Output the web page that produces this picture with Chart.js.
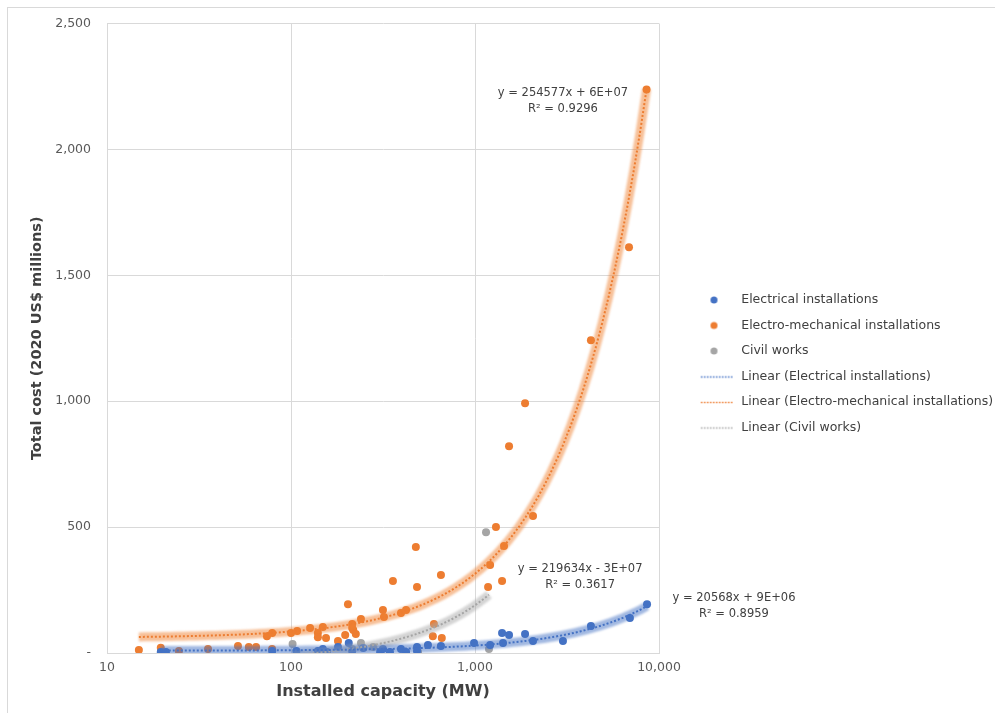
<!DOCTYPE html>
<html>
<head>
<meta charset="utf-8">
<title>Total cost vs installed capacity</title>
<script src="https://cdn.jsdelivr.net/npm/chart.js@4.4.1/dist/chart.umd.min.js"></script>
<style>
    html, body { margin: 0; padding: 0; background: #fff; }
    #wrap { position: relative; width: 995px; height: 713px; overflow: hidden; }
    #frame { position: absolute; left: 7px; top: 7px; width: 1000px; height: 720px; border: 1px solid #d9d9d9; pointer-events: none; }
    #chart { position: absolute; left: 0; top: 0; }
</style>
</head>
<body>
<div id="wrap">
    <canvas id="chart" width="995" height="713"></canvas>
    <div id="frame"></div>
</div>
<script>
// Datos (MW, millones de US$ 2020)
const elecCapacity = [19.6, 20.9, 79, 107, 140, 149, 157, 180, 206, 215, 247, 305, 316, 345, 396, 422, 484, 484, 555, 653, 988, 1208, 1403, 1420, 1531, 1871, 2067, 3006, 4266, 6950, 8610];
const elecCost     = [4, 4, 8, 8, 8, 16, 4, 24, 40, 8, 20, 4, 16, 4, 16, 4, 24, 8, 32, 28, 40, 32, 79, 40, 71, 75, 48, 48, 107, 139, 194];

const emCapacity = [14.9, 19.6, 24.6, 35.4, 51.5, 59, 64.6, 78.9, 74, 79, 100, 108, 127, 149, 140, 140, 155, 204, 180, 197, 215, 215, 218, 225, 240, 316, 320, 358, 396, 422, 477, 484, 653, 598, 590, 660, 1178, 1208, 1300, 1403, 1438, 1531, 1871, 2067, 4266, 6870, 8560];
const emCost     = [12, 21, 8, 16, 28, 24, 24, 16, 67, 79, 79, 87, 99, 103, 79, 63, 60, 194, 48, 71, 115, 99, 91, 75, 135, 171, 143, 286, 159, 171, 421, 262, 310, 115, 67, 60, 262, 349, 500, 286, 425, 821, 992, 544, 1242, 1611, 2238];

const civilCapacity = [102, 215, 240, 280, 490, 1148, 1191];
const civilCost     = [36, 16, 40, 24, 4, 480, 16];

// Lineas de tendencia (pendiente en US$/MW, intercepto en US$)
const elecTrend  = [20568, 9e6];
const emTrend    = [254577, 6e7];
const civilTrend = [219634, -3e7];

const seriesNames = ['Electrical installations', 'Electro-mechanical installations', 'Civil works'];
const eqLabels = [
    ['y = 20568x + 9E+06', 'R\u00b2 = 0.8959'],
    ['y = 254577x + 6E+07', 'R\u00b2 = 0.9296'],
    ['y = 219634x - 3E+07', 'R\u00b2 = 0.3617']
];

const xTicks = [10, 100, 1000, 10000];
const yTicks = [0, 500, 1000, 1500, 2000, 2500];

const colores = ['#4472c4', '#ed7d31', '#a5a5a5'];
const glows = ['rgba(68,114,196,0.5)', 'rgba(240,130,50,0.5)', 'rgba(170,170,170,0.5)'];

// Posicion de las etiquetas de ecuacion (en unidades del grafico)
const eqAnchors = [[25560, 186], [3006, 2194], [3725, 302]];

function puntos(xs, ys) {
    return xs.map((x, i) => ({ x: x, y: ys[i] }));
}

// Recta y = a*x + b (en millones) dibujada sobre el rango de capacidad de la serie
function tendencia(coef, xs) {
    const lo = Math.min(...xs), hi = Math.max(...xs);
    const pts = [];
    const n = 80;
    for (let i = 0; i <= n; i++) {
        const x = lo * Math.pow(hi / lo, i / n);
        pts.push({ x: x, y: (coef[0] * x + coef[1]) / 1e6 });
    }
    return pts;
}

// Marcadores de la leyenda
function marca(tipo, color) {
    const c = document.createElement('canvas');
    c.width = 64; c.height = 12;
    const g = c.getContext('2d');
    if (tipo === 'dot') {
        g.fillStyle = color;
        g.beginPath();
        g.arc(42.5, 6, 3.5, 0, Math.PI * 2);
        g.fill();
    } else {
        g.strokeStyle = color;
        g.lineWidth = 1.5;
        g.setLineDash([1.5, 1.5]);
        g.beginPath();
        g.moveTo(29.5, 6.5);
        g.lineTo(62.5, 6.5);
        g.stroke();
    }
    return c;
}
const legendMarks = [
    marca('dot', colores[0]), marca('dot', colores[1]), marca('dot', colores[2]),
    marca('line', colores[0]), marca('line', colores[1]), marca('line', colores[2])
];

const seriesXs = [elecCapacity, emCapacity, civilCapacity];
const seriesYs = [elecCost, emCost, civilCost];
const trends = [elecTrend, emTrend, civilTrend];

const datasets = [];
// Puntos
seriesNames.forEach((name, i) => {
    datasets.push({
        label: name,
        data: puntos(seriesXs[i], seriesYs[i]),
        backgroundColor: colores[i],
        borderColor: colores[i],
        borderWidth: 0,
        pointRadius: 4,
        pointHoverRadius: 4,
        order: 3
    });
});
// Lineas punteadas de tendencia
seriesNames.forEach((name, i) => {
    datasets.push({
        label: 'Linear (' + name + ')',
        data: tendencia(trends[i], seriesXs[i]),
        showLine: true,
        borderColor: colores[i],
        borderWidth: 2,
        borderDash: [2, 2],
        pointRadius: 0,
        order: 1
    });
});
// Resplandor de las tendencias
seriesNames.forEach((name, i) => {
    datasets.push({
        label: 'glow',
        glow: true,
        data: tendencia(trends[i], seriesXs[i]),
        showLine: true,
        borderColor: glows[i],
        borderWidth: 9,
        pointRadius: 0,
        order: 2
    });
});

const glowPlugin = {
    id: 'glow',
    beforeDatasetDraw(chart, args) {
        if (chart.data.datasets[args.index].glow) {
            chart.ctx.save();
            chart.ctx.filter = 'blur(1.2px)';
        }
    },
    afterDatasetDraw(chart, args) {
        if (chart.data.datasets[args.index].glow) chart.ctx.restore();
    }
};

const legendWidthPlugin = {
    id: 'legendWidth',
    beforeLayout(chart) {
        const lg = chart.legend;
        if (lg && !lg._fijo) {
            const fit = lg.fit.bind(lg);
            lg.fit = function () { fit(); this.width = 336; };
            lg._fijo = true;
        }
    }
};

const eqPlugin = {
    id: 'eqLabels',
    afterDatasetsDraw(chart) {
        const { ctx, scales } = chart;
        ctx.save();
        ctx.font = '11.5px "DejaVu Sans"';
        ctx.fillStyle = '#404040';
        ctx.textAlign = 'center';
        ctx.textBaseline = 'middle';
        eqLabels.forEach((lines, i) => {
            const px = scales.x.getPixelForValue(eqAnchors[i][0]);
            const py = scales.y.getPixelForValue(eqAnchors[i][1]);
            ctx.fillText(lines[0], px, py - 8);
            ctx.fillText(lines[1], px, py + 8);
        });
        ctx.restore();
    }
};

const tickFont = { family: 'DejaVu Sans', size: 12.5 };

new Chart(document.getElementById('chart'), {
    type: 'scatter',
    data: { datasets: datasets },
    options: {
        responsive: false,
        animation: false,
        layout: { padding: { left: 7, top: 23, right: 0, bottom: 8.5 } },
        plugins: {
            legend: {
                position: 'right',
                align: 'center',
                labels: {
                    usePointStyle: true,
                    pointStyleWidth: 63,
                    padding: 13,
                    color: '#404040',
                    font: { family: 'DejaVu Sans', size: 12.5 },
                    filter: item => item.datasetIndex < 6,
                    sort: (a, b) => a.datasetIndex - b.datasetIndex,
                    generateLabels(chart) {
                        const items = Chart.defaults.plugins.legend.labels.generateLabels(chart);
                        return items.map(it => {
                            it.pointStyle = legendMarks[it.datasetIndex];
                            return it;
                        });
                    }
                }
            },
            tooltip: { enabled: false }
        },
        scales: {
            x: {
                type: 'logarithmic',
                min: 10,
                max: 10000,
                afterBuildTicks: s => { s.ticks = xTicks.map(v => ({ value: v })); },
                afterFit: s => { s.height = 51.5; },
                grid: { color: '#d9d9d9', drawTicks: false },
                border: { color: '#d9d9d9' },
                ticks: {
                    padding: 7,
                    color: '#595959',
                    font: tickFont,
                    maxRotation: 0,
                    autoSkip: false,
                    callback: v => Number(v).toLocaleString('en-US')
                },
                title: {
                    display: true,
                    text: 'Installed capacity (MW)',
                    color: '#404040',
                    font: { family: 'DejaVu Sans', size: 16, weight: 'bold' },
                    padding: { top: 0, bottom: 3 }
                }
            },
            y: {
                min: 0,
                max: 2500,
                afterBuildTicks: s => { s.ticks = yTicks.map(v => ({ value: v })); },
                afterFit: s => { s.width = 100; },
                grid: { color: '#d9d9d9', drawTicks: false },
                border: { color: '#d9d9d9' },
                ticks: {
                    padding: 16,
                    color: '#595959',
                    font: tickFont,
                    callback: v => v === 0 ? '-' : Number(v).toLocaleString('en-US')
                },
                title: {
                    display: true,
                    text: 'Total cost (2020 US$ millions)',
                    color: '#404040',
                    font: { family: 'DejaVu Sans', size: 14.5, weight: 'bold' },
                    padding: { top: 22, bottom: 0 }
                }
            }
        }
    },
    plugins: [glowPlugin, legendWidthPlugin, eqPlugin]
});
</script>
</body>
</html>
